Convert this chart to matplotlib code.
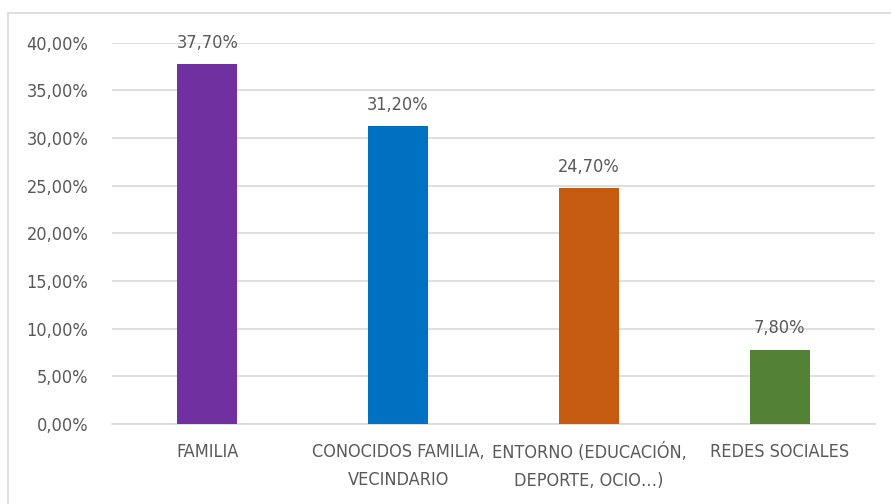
import matplotlib.pyplot as plt
from matplotlib.lines import Line2D
from matplotlib.ticker import FuncFormatter

plt.rcParams['font.family'] = ['DejaVu Sans']
plt.rcParams['font.stretch'] = 'condensed'

# Datos
categorias = ['FAMILIA', 'CONOCIDOS FAMILIA,\nVECINDARIO',
              'ENTORNO (EDUCACIÓN,\nDEPORTE, OCIO…)', 'REDES SOCIALES']
valores = [37.7, 31.2, 24.7, 7.8]
colores = ['#7030A0', '#0070C0', '#C55A11', '#538135']

gris = '#595959'

fig = plt.figure(figsize=(8.91, 5.04), dpi=100)
ax = fig.add_axes([112 / 891, 80 / 504, 763 / 891, 381.5 / 504])

x = range(len(valores))
barras = ax.bar(x, valores, width=0.315, color=colores, zorder=3)

for b, v in zip(barras, valores):
    ax.annotate(f'{v:.2f}%'.replace('.', ','),
                (b.get_x() + b.get_width() / 2, v),
                xytext=(0, 9), textcoords='offset points',
                ha='center', va='bottom', fontsize=13, color=gris)

ax.set_xlim(-0.5, len(valores) - 0.5)
ax.set_ylim(0, 40)
ax.set_yticks(range(0, 41, 5))
ax.yaxis.set_major_formatter(FuncFormatter(lambda v, p: f'{v:.2f}%'.replace('.', ',')))
ax.set_xticks(list(x))
ax.set_xticklabels(categorias, linespacing=1.7)

ax.grid(axis='y', color='#D9D9D9', linewidth=1.2, zorder=0)
ax.tick_params(axis='both', length=0, labelsize=13, labelcolor=gris)
ax.tick_params(axis='y', pad=17)
ax.tick_params(axis='x', pad=14)
for s in ['top', 'right', 'left']:
    ax.spines[s].set_visible(False)
ax.spines['bottom'].set_color('#D9D9D9')
ax.spines['bottom'].set_linewidth(1.2)

# Borde del gráfico
fig.add_artist(Line2D([8 / 891, 8 / 891], [0, 1 - 13 / 504], color='#D9D9D9', linewidth=1.2))
fig.add_artist(Line2D([8 / 891, 1], [1 - 13 / 504, 1 - 13 / 504], color='#D9D9D9', linewidth=1.2))

fig.savefig('out.png', dpi=100)
